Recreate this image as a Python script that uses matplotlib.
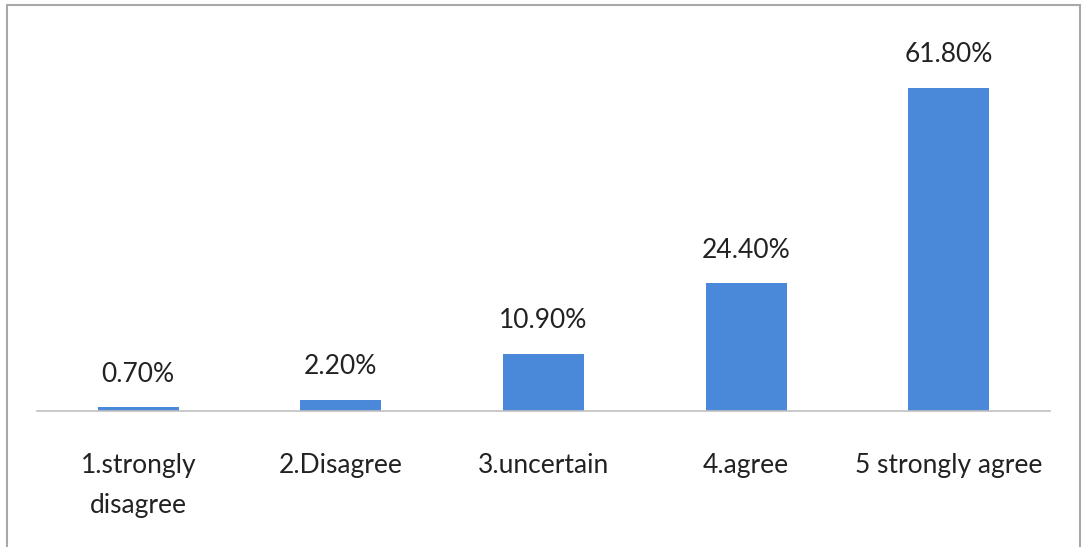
import matplotlib
matplotlib.use("Agg")
import matplotlib.pyplot as plt
from matplotlib.patches import Rectangle

categories = ["1.strongly\ndisagree", "2.Disagree", "3.uncertain", "4.agree", "5 strongly agree"]
percent = [0.7, 2.2, 10.9, 24.4, 61.8]
value_labels = ["0.70%", "2.20%", "10.90%", "24.40%", "61.80%"]

plt.rcParams['font.family'] = ['Lato', 'DejaVu Sans']

fig = plt.figure(figsize=(10.85, 5.47), dpi=100)
ax = fig.add_axes([0.0341, 0.2486, 0.9336, 0.7148])

x = range(len(categories))
bars = ax.bar(x, percent, width=0.40, color="#4a88da")

for b, lab in zip(bars, value_labels):
    ax.annotate(lab, (b.get_x() + b.get_width() / 2, b.get_height()),
                xytext=(0, 15), textcoords="offset points",
                ha="center", va="bottom", fontsize=19, color="#222222")

ax.set_xlim(-0.5, 4.5)
ax.set_ylim(0, 74.8)
ax.set_xticks(list(x))
ax.set_xticklabels(categories, fontsize=19, color="#222222", linespacing=1.75)
ax.tick_params(axis='x', length=0, pad=30)
ax.set_yticks([])
for s in ["top", "right", "left"]:
    ax.spines[s].set_visible(False)
ax.spines["bottom"].set_color("#c0c0c0")
ax.spines["bottom"].set_linewidth(1.2)

# frame around the whole chart
fig.patches.append(Rectangle((7 / 1085, -0.02), 1073 / 1085, 1 - 5 / 547 + 0.02,
                             transform=fig.transFigure, fill=False,
                             edgecolor="#a8a8a8", linewidth=1.5))

fig.savefig("out.png", dpi=100)
